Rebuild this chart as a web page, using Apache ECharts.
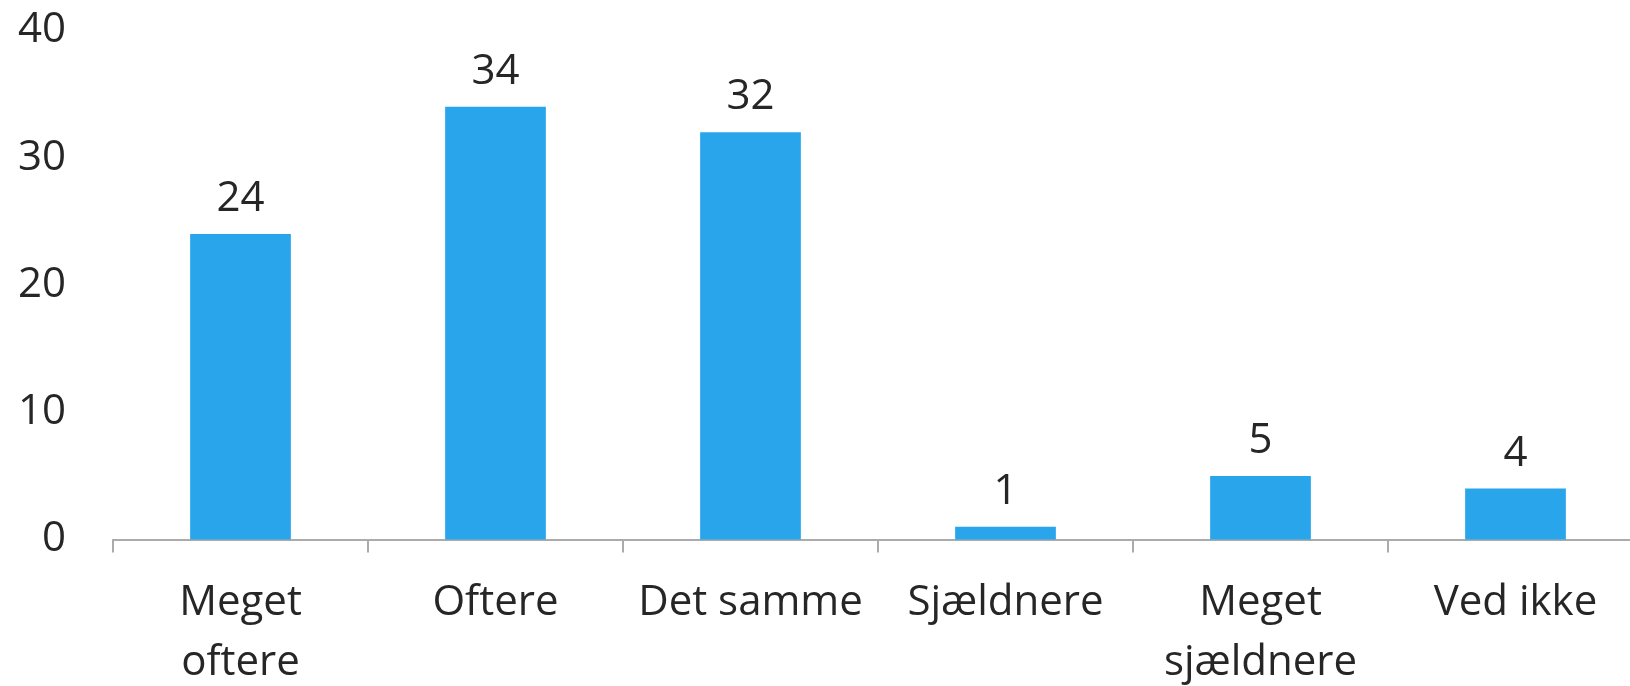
<!DOCTYPE html>
<html>
<head>
<meta charset="utf-8">
<script src="https://cdn.jsdelivr.net/npm/echarts@6/dist/echarts.min.js"></script>
<style>html,body{margin:0;padding:0;background:#fff}#c{width:1630px;height:686px}</style>
</head>
<body>
<div id="c"></div>
<script>
var categories = ["Meget\noftere", "Oftere", "Det samme", "Sjældnere", "Meget\nsjældnere", "Ved ikke"];
var values = [24, 34, 32, 1, 5, 4];
var yTicks = [0, 10, 20, 30, 40];

var chart = echarts.init(document.getElementById('c'));
var font = '"Open Sans", "Noto Sans", sans-serif';
chart.setOption({
  animation: false,
  grid: { left: 113, right: -13, top: 30.5, bottom: 146.5, containLabel: false, outerBoundsMode: 'none' },
  xAxis: {
    type: 'category',
    data: categories,
    axisLine: { lineStyle: { color: '#ABABAB', width: 2 } },
    axisTick: { show: true, length: 13, lineStyle: { color: '#ABABAB', width: 2 } },
    axisLabel: { interval: 0, color: '#262626', fontSize: 42, fontFamily: font, lineHeight: 60, margin: 34 }
  },
  yAxis: {
    type: 'value',
    min: yTicks[0], max: yTicks[yTicks.length - 1], interval: 10,
    axisLine: { show: false },
    axisTick: { show: false },
    splitLine: { show: false },
    axisLabel: { color: '#262626', fontSize: 42, fontFamily: font, margin: 47 }
  },
  series: [{
    type: 'bar',
    data: values,
    barWidth: '39.5%',
    itemStyle: { color: '#29A6EB' },
    label: { show: true, position: 'top', distance: 14, color: '#262626', fontSize: 42, fontFamily: font }
  }]
});
</script>
</body>
</html>
